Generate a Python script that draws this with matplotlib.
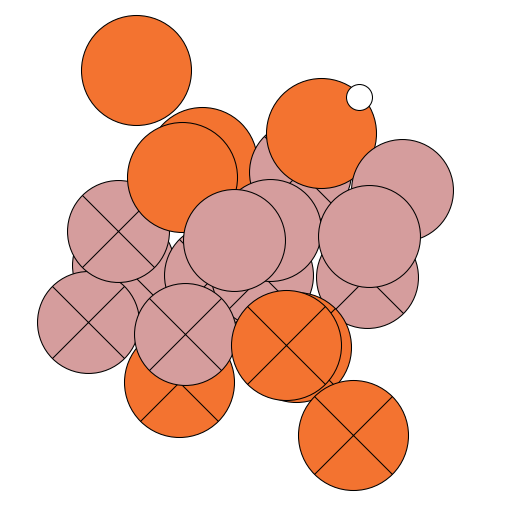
import matplotlib
matplotlib.use("Agg")
import matplotlib.pyplot as plt
import numpy as np

# points in drawing order (back to front)
x = [2.67, 3.96, 5.88, 6.29, 7.04, 7.88, 2.41, 1.73, 2.31, 3.57, 4.22,
     5.14, 5.29, 7.20, 4.59, 7.24, 3.51, 3.63, 5.80, 5.61, 6.92]
y = [8.64, 6.85, 6.66, 7.42, 8.12, 6.31, 4.85, 3.75, 5.51, 6.56, 4.66,
     4.66, 5.53, 4.62, 5.34, 5.42, 2.58, 3.51, 3.26, 3.30, 1.55]
group = ["a", "a", "b", "a", "c", "b", "b", "b", "b", "a", "b",
         "b", "b", "b", "b", "b", "a", "b", "a", "a", "a"]
crossed = [0, 0, 1, 0, 0, 0, 1, 1, 1, 0, 1,
           1, 0, 1, 0, 0, 1, 1, 1, 1, 1]

colors = {"a": "#F37330", "b": "#D59D9D", "c": "#FFFFFF"}
diam = {"a": 79.2, "b": 73.4, "c": 18.7}   # marker diameter in points

fig = plt.figure(figsize=(5.1, 5.15), dpi=100)
ax = fig.add_axes([0, 0, 1, 1])
ax.set_xlim(0, 10)
ax.set_ylim(0, 10)
ax.axis("off")

for i in range(len(x)):
    d = diam[group[i]]
    ax.scatter(x[i], y[i], s=d**2, color=colors[group[i]],
               edgecolors="black", linewidths=0.75, zorder=2 * i)
    if crossed[i]:
        ax.scatter(x[i], y[i], s=(d**2) / 2, marker="x", color="black",
                   linewidths=0.75, zorder=2 * i + 1)

fig.savefig("out.png", dpi=100)
